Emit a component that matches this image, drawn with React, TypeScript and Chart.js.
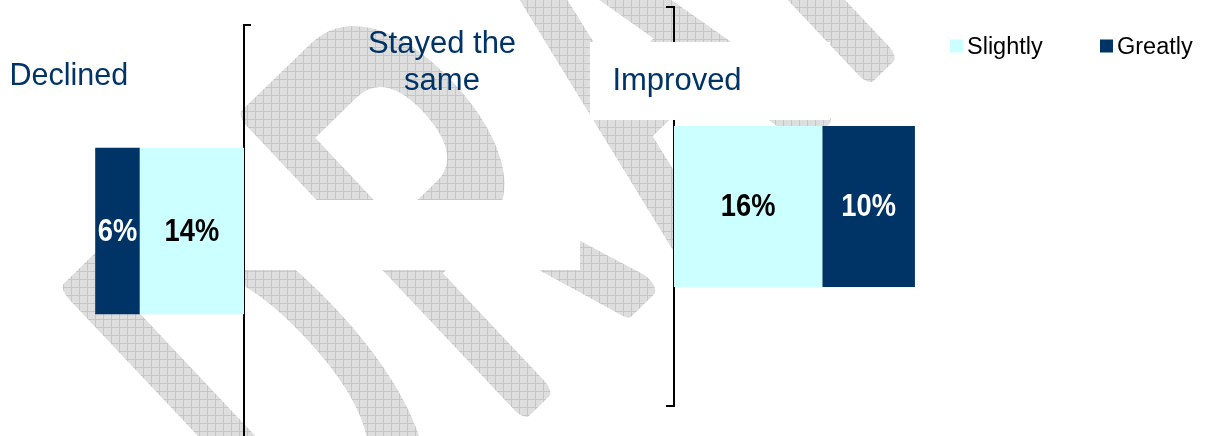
import { useEffect, useRef } from "react";
import { Chart, registerables } from "chart.js";

Chart.register(...registerables);

// Series and values
const seriesNames = ["Slightly", "Greatly"];
const seriesColors = ["#CCFFFF", "#003366"];
const valueLabelColors = ["#000000", "#FFFFFF"];

const panelTitles = ["Declined", "Stayed the same", "Improved"];
const declinedSlightly = [14];
const declinedGreatly = [6];
const stayedSame = [54];
const improvedSlightly = [16];
const improvedGreatly = [10];

const watermarkText = "DRAFT";

const FONT = '"Liberation Sans", Arial, Helvetica, sans-serif';
const TITLE_COLOR = "#003366";

// Affine placement of the watermark lettering (a, b, c, d, e, f), 100px font units
const WM: [number, number, number, number, number, number] = [2.095, -2.037, 3.897, 4.134, 324.7, 594.8];

function drawWatermark(ctx: CanvasRenderingContext2D, w: number, h: number) {
  const off = document.createElement("canvas");
  off.width = w;
  off.height = h;
  const o = off.getContext("2d")! as any;
  o.setTransform(WM[0], WM[1], WM[2], WM[3], WM[4], WM[5]);
  o.font = `100px ${FONT}`;
  o.letterSpacing = "12.7px";
  o.fillStyle = "#000";
  o.strokeStyle = "#000";
  o.lineJoin = "round";
  o.lineCap = "round";
  o.lineWidth = 5;
  o.fillText(watermarkText, 0, 0);
  o.strokeText(watermarkText, 0, 0);
  o.setTransform(1, 0, 0, 1, 0, 0);
  o.globalCompositeOperation = "source-in";
  const tile = document.createElement("canvas");
  tile.width = 8;
  tile.height = 8;
  const t = tile.getContext("2d")!;
  t.fillStyle = "#dedede";
  t.fillRect(0, 0, 8, 8);
  t.fillStyle = "#c6c6c6";
  t.fillRect(7, 0, 1, 8);
  t.fillRect(0, 7, 8, 1);
  o.fillStyle = o.createPattern(tile, "repeat")!;
  o.fillRect(0, 0, w, h);
  ctx.save();
  ctx.setTransform(1, 0, 0, 1, 0, 0);
  ctx.drawImage(off, 0, 0);
  ctx.restore();
}

// Percent labels centred inside each stacked segment
const valueLabels = {
  id: "valueLabels",
  afterDatasetsDraw(chart: any) {
    const ctx: CanvasRenderingContext2D = chart.ctx;
    chart.data.datasets.forEach((ds: any, di: number) => {
      const meta = chart.getDatasetMeta(di);
      const color = valueLabelColors[seriesNames.indexOf(ds.label)] ?? "#000";
      meta.data.forEach((el: any, i: number) => {
        const { x, y, base } = el.getProps(["x", "y", "base"], true);
        ctx.save();
        ctx.translate((x + base) / 2, y + 1);
        ctx.scale(0.88, 1);
        ctx.font = `bold 31px ${FONT}`;
        ctx.fillStyle = color;
        ctx.textAlign = "center";
        ctx.textBaseline = "middle";
        ctx.fillText(`${ds.data[i]}%`, 0, 0);
        ctx.restore();
      });
    });
  },
};

function bracketAxis(position: "left" | "right", tickLength: number) {
  return {
    type: "category" as const,
    position,
    stacked: true,
    offset: true,
    ticks: { display: false },
    grid: {
      display: true,
      drawOnChartArea: false,
      drawTicks: true,
      tickLength,
      offset: true,
      color: "#000000",
      lineWidth: 2,
    },
    border: { display: true, color: "#000000", width: 2 },
  };
}

export default function App() {
  const midRef = useRef<HTMLCanvasElement>(null);
  const leftRef = useRef<HTMLCanvasElement>(null);
  const rightRef = useRef<HTMLCanvasElement>(null);

  useEffect(() => {
    const charts: Chart[] = [];

    // Middle panel: "Stayed the same", plus watermark, panel heading and legend
    charts.push(
      new Chart(midRef.current!, {
        type: "bar",
        data: {
          labels: [panelTitles[1]],
          datasets: [
            {
              label: panelTitles[1],
              data: stayedSame,
              backgroundColor: "#FFFFFF",
              borderWidth: 0,
              categoryPercentage: 1,
              barPercentage: 0.174,
            },
          ],
        },
        options: {
          indexAxis: "y",
          animation: false,
          responsive: false,
          events: [],
          layout: { padding: { left: 245, right: 625, top: 34, bottom: 0 } },
          plugins: { legend: { display: false }, tooltip: { enabled: false } },
          scales: {
            x: { display: false, min: 0, max: 54 },
            y: { display: false },
          },
        },
        plugins: [
          {
            id: "watermark",
            beforeDatasetsDraw(chart: any) {
              drawWatermark(chart.ctx, chart.width, chart.height);
            },
          },
          {
            id: "headingAndLegend",
            afterDraw(chart: any) {
              const ctx: CanvasRenderingContext2D = chart.ctx;
              ctx.save();
              ctx.fillStyle = TITLE_COLOR;
              ctx.font = `31px ${FONT}`;
              ctx.textAlign = "center";
              ctx.textBaseline = "alphabetic";
              const words = panelTitles[1].split(" ");
              ctx.fillText(words.slice(0, 2).join(" "), 442, 53);
              ctx.fillText(words.slice(2).join(" "), 442, 89.5);

              ctx.font = `23.5px ${FONT}`;
              ctx.textAlign = "left";
              const items = [
                { x: 950, name: seriesNames[0], color: seriesColors[0] },
                { x: 1100, name: seriesNames[1], color: seriesColors[1] },
              ];
              items.forEach((it) => {
                ctx.fillStyle = it.color;
                ctx.fillRect(it.x, 39.5, 13, 13);
                ctx.fillStyle = "#000000";
                ctx.fillText(it.name, it.x + 17, 53.5);
              });
              ctx.restore();
            },
          },
        ],
      })
    );

    // Left panel: Declined (grows leftwards from the axis)
    charts.push(
      new Chart(leftRef.current!, {
        type: "bar",
        data: {
          labels: [panelTitles[0]],
          datasets: [
            {
              label: seriesNames[0],
              data: declinedSlightly,
              backgroundColor: seriesColors[0],
              borderWidth: 0,
              categoryPercentage: 1,
              barPercentage: 0.404,
            },
            {
              label: seriesNames[1],
              data: declinedGreatly,
              backgroundColor: seriesColors[1],
              borderWidth: 0,
              categoryPercentage: 1,
              barPercentage: 0.404,
            },
          ],
        },
        options: {
          indexAxis: "y",
          animation: false,
          responsive: false,
          events: [],
          layout: { padding: { left: 58, right: 9, top: 25, bottom: 13 } },
          plugins: { legend: { display: false }, tooltip: { enabled: false } },
          scales: {
            x: { display: false, stacked: true, reverse: true, min: 0, max: 25 },
            y: bracketAxis("right", 7),
          },
        },
        plugins: [
          valueLabels,
          {
            id: "declinedHeading",
            afterDraw(chart: any) {
              const ctx: CanvasRenderingContext2D = chart.ctx;
              ctx.save();
              ctx.fillStyle = TITLE_COLOR;
              ctx.font = `30.5px ${FONT}`;
              ctx.textAlign = "left";
              ctx.textBaseline = "alphabetic";
              ctx.fillText(panelTitles[0], 9.5, 85);
              ctx.restore();
            },
          },
        ],
      })
    );

    // Right panel: Improved
    charts.push(
      new Chart(rightRef.current!, {
        type: "bar",
        data: {
          labels: [panelTitles[2]],
          datasets: [
            {
              label: seriesNames[0],
              data: improvedSlightly,
              backgroundColor: seriesColors[0],
              borderWidth: 0,
              categoryPercentage: 1,
              barPercentage: 0.404,
            },
            {
              label: seriesNames[1],
              data: improvedGreatly,
              backgroundColor: seriesColors[1],
              borderWidth: 0,
              categoryPercentage: 1,
              barPercentage: 0.404,
            },
          ],
        },
        options: {
          indexAxis: "y",
          animation: false,
          responsive: false,
          events: [],
          layout: { padding: { left: 86, right: 48, top: 7, bottom: 30 } },
          plugins: { legend: { display: false }, tooltip: { enabled: false } },
          scales: {
            x: { display: false, stacked: true, min: 0, max: 30 },
            y: bracketAxis("left", 8),
          },
        },
        plugins: [
          valueLabels,
          {
            id: "improvedHeading",
            afterDraw(chart: any) {
              const ctx: CanvasRenderingContext2D = chart.ctx;
              ctx.save();
              ctx.fillStyle = "#FFFFFF";
              ctx.fillRect(10, 42, 240, 78);
              ctx.fillStyle = TITLE_COLOR;
              ctx.font = `31px ${FONT}`;
              ctx.textAlign = "center";
              ctx.textBaseline = "alphabetic";
              ctx.fillText(panelTitles[2], 97, 89.5);
              ctx.restore();
            },
          },
        ],
      })
    );

    return () => charts.forEach((c) => c.destroy());
  }, []);

  return (
    <div
      style={{
        position: "fixed",
        left: 0,
        top: 0,
        width: 1205,
        height: 436,
        overflow: "hidden",
        background: "#FFFFFF",
      }}
    >
      <canvas ref={midRef} width={1205} height={436} style={{ position: "absolute", left: 0, top: 0 }} />
      <canvas ref={leftRef} width={260} height={450} style={{ position: "absolute", left: 0, top: 0 }} />
      <canvas ref={rightRef} width={420} height={436} style={{ position: "absolute", left: 580, top: 0 }} />
    </div>
  );
}
